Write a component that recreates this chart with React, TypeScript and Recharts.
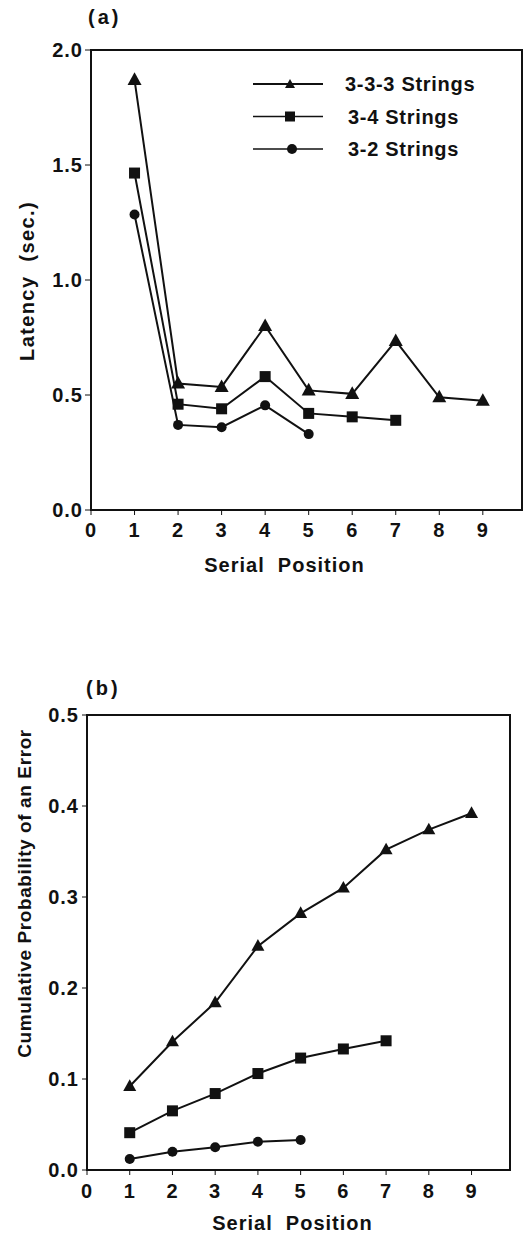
import React from "react";
import { LineChart, Line, XAxis, YAxis, ReferenceArea, Legend, Label } from "recharts";

// serial positions and tick values
const POSITIONS = [1, 2, 3, 4, 5, 6, 7, 8, 9];
const X_TICKS = [0, 1, 2, 3, 4, 5, 6, 7, 8, 9];
const LATENCY_TICKS = [0, 0.5, 1, 1.5, 2];
const ERROR_TICKS = [0, 0.1, 0.2, 0.3, 0.4, 0.5];

const SERIES_NAMES = ["3-3-3 Strings", "3-4 Strings", "3-2 Strings"];

// (a) latency in seconds
const LATENCY_333 = [1.87, 0.55, 0.535, 0.8, 0.52, 0.505, 0.735, 0.49, 0.475];
const LATENCY_34 = [1.465, 0.46, 0.44, 0.58, 0.42, 0.405, 0.39];
const LATENCY_32 = [1.285, 0.37, 0.36, 0.455, 0.33];

// (b) cumulative probability of an error
const ERROR_333 = [0.092, 0.141, 0.184, 0.246, 0.282, 0.31, 0.352, 0.374, 0.392];
const ERROR_34 = [0.041, 0.065, 0.084, 0.106, 0.123, 0.133, 0.142];
const ERROR_32 = [0.012, 0.02, 0.025, 0.031, 0.033];

const build = (a: number[], b: number[], c: number[]) =>
  POSITIONS.map((x, i) => ({ x, t: a[i], s: b[i], c: c[i] }));

const latencyRows = build(LATENCY_333, LATENCY_34, LATENCY_32);
const errorRows = build(ERROR_333, ERROR_34, ERROR_32);

const FONT = '"Liberation Sans", Arial, Helvetica, sans-serif';
const INK = "#111";
const tickStyle = { fill: INK, fontSize: 20, fontWeight: 700, fontFamily: FONT, letterSpacing: 1 };

const triangle = (w: number) => (p: any) => {
  const { cx, cy, index } = p;
  if (cx == null || cy == null) return <g key={index} />;
  const h = w * 0.9;
  return (
    <path
      key={index}
      d={`M${cx},${cy - h * 0.6} L${cx + w / 2},${cy + h * 0.4} L${cx - w / 2},${cy + h * 0.4} Z`}
      fill={INK}
    />
  );
};

const square = (w: number) => (p: any) => {
  const { cx, cy, index } = p;
  if (cx == null || cy == null) return <g key={index} />;
  return <rect key={index} x={cx - w / 2} y={cy - w / 2} width={w} height={w} fill={INK} />;
};

const circle = (r: number) => (p: any) => {
  const { cx, cy, index } = p;
  if (cx == null || cy == null) return <g key={index} />;
  return <circle key={index} cx={cx} cy={cy} r={r} fill={INK} />;
};

const LegendBox = () => (
  <svg width={250} height={90}>
    {SERIES_NAMES.map((name, i) => {
      const y = 12 + i * 32.5;
      return (
        <g key={name}>
          <line x1={3} x2={73} y1={y} y2={y} stroke={INK} strokeWidth={i === 0 ? 2.2 : 1.6} />
          {i === 0 && <path d={`M40,${y - 5} L45,${y + 4} L35,${y + 4} Z`} fill={INK} />}
          {i === 1 && <rect x={35} y={y - 5} width={10} height={10} fill={INK} />}
          {i === 2 && <circle cx={42} cy={y} r={5} fill={INK} />}
          <text x={95 + (i === 0 ? 0 : 3)} y={y} dy="0.36em" fill={INK} fontSize={20} fontWeight={700}
            fontFamily={FONT} letterSpacing={0.7}>
            {name}
          </text>
        </g>
      );
    })}
  </svg>
);

const xTitle = (dx: number, dy: number) => (p: any) => {
  const vb = p.viewBox;
  return (
    <text x={vb.x + vb.width / 2 + dx} y={vb.y + dy} textAnchor="middle" dominantBaseline="central"
      fill={INK} fontSize={20} fontWeight={700} fontFamily={FONT} letterSpacing={1} style={{ whiteSpace: "pre" }}>
      Serial  Position
    </text>
  );
};

const yTitle = (text: string, x: number, dy: number, size: number, spacing: number) => (p: any) => {
  const vb = p.viewBox;
  const cy = vb.y + vb.height / 2 + dy;
  return (
    <text x={x} y={cy} transform={`rotate(-90, ${x}, ${cy})`} textAnchor="middle" dominantBaseline="central"
      fill={INK} fontSize={size} fontWeight={700} fontFamily={FONT} letterSpacing={spacing} style={{ whiteSpace: "pre" }}>
      {text}
    </text>
  );
};

const panelLabel = (top: number, left: number, text: string) => (
  <div style={{ position: "absolute", top, left, fontFamily: FONT, fontWeight: 700, fontSize: 20, color: INK, letterSpacing: 3, lineHeight: "22px" }}>
    {text}
  </div>
);

export default function App() {
  return (
    <div style={{ position: "absolute", left: 0, top: 0, width: 530, height: 1234, background: "#fff" }}>
      {panelLabel(6, 88, "(a)")}
      <div style={{ position: "absolute", left: 0, top: 0 }}>
        <LineChart width={530} height={600} data={latencyRows} margin={{ top: 50, right: 8, left: 0, bottom: 30 }}>
          <ReferenceArea x1={0} x2={9.9} y1={0} y2={2} fill="none" stroke={INK} strokeWidth={2} />
          <XAxis type="number" dataKey="x" domain={[0, 9.9]} ticks={X_TICKS} height={60}
            tick={tickStyle} tickSize={5} tickMargin={8} axisLine={{ stroke: INK, strokeWidth: 2 }} tickLine={{ stroke: INK }}>
            <Label content={xTitle(-22, 55)} />
          </XAxis>
          <YAxis type="number" domain={[0, 2]} ticks={LATENCY_TICKS} width={91} tickFormatter={(v: number) => v.toFixed(1)}
            tick={tickStyle} tickSize={6} tickMargin={2} axisLine={{ stroke: INK, strokeWidth: 2 }} tickLine={{ stroke: INK }}>
            <Label content={yTitle("Latency  (sec.)", 27, 1, 20, 1.4)} />
          </YAxis>
          <Legend layout="vertical" align="center" verticalAlign="middle" content={<LegendBox />}
            wrapperStyle={{ top: 72, left: 250, width: 250, height: 90 }} />
          <Line dataKey="t" stroke={INK} strokeWidth={2} dot={triangle(14)} isAnimationActive={false} />
          <Line dataKey="s" stroke={INK} strokeWidth={2} dot={square(11)} isAnimationActive={false} />
          <Line dataKey="c" stroke={INK} strokeWidth={2} dot={circle(5)} isAnimationActive={false} />
        </LineChart>
      </div>

      {panelLabel(677, 86, "(b)")}
      <div style={{ position: "absolute", left: 0, top: 620 }}>
        <LineChart width={530} height={614} data={errorRows} margin={{ top: 95, right: 20, left: 0, bottom: 14 }}>
          <ReferenceArea x1={0} x2={9.9} y1={0} y2={0.5} fill="none" stroke={INK} strokeWidth={2} />
          <XAxis type="number" dataKey="x" domain={[0, 9.9]} ticks={X_TICKS} height={50}
            tick={tickStyle} tickSize={5} tickMargin={9} axisLine={{ stroke: INK, strokeWidth: 2 }} tickLine={{ stroke: INK }}>
            <Label content={xTitle(-6, 53)} />
          </XAxis>
          <YAxis type="number" domain={[0, 0.5]} ticks={ERROR_TICKS} width={87} tickFormatter={(v: number) => v.toFixed(1)}
            tick={tickStyle} tickSize={5} tickMargin={3} axisLine={{ stroke: INK, strokeWidth: 2 }} tickLine={{ stroke: INK }}>
            <Label content={yTitle("Cumulative Probability of an Error", 24, -49, 19, 0.6)} />
          </YAxis>
          <Line dataKey="t" stroke={INK} strokeWidth={2} dot={triangle(13)} isAnimationActive={false} />
          <Line dataKey="s" stroke={INK} strokeWidth={2} dot={square(11)} isAnimationActive={false} />
          <Line dataKey="c" stroke={INK} strokeWidth={2} dot={circle(5)} isAnimationActive={false} />
        </LineChart>
      </div>
    </div>
  );
}
